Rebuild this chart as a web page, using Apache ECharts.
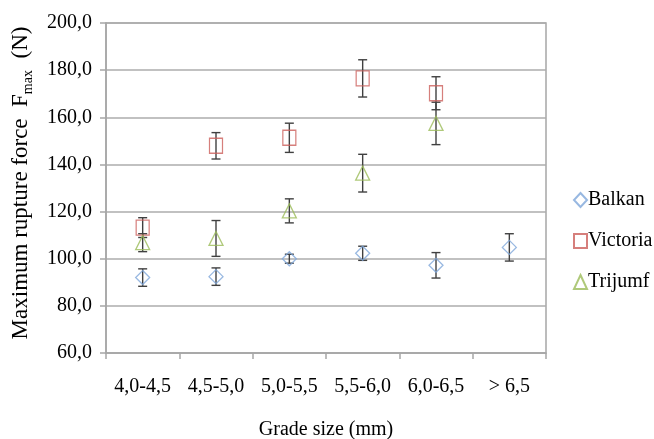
<!DOCTYPE html>
<html>
<head>
<meta charset="utf-8">
<script src="https://cdn.jsdelivr.net/npm/echarts@6/dist/echarts.min.js"></script>
<style>
html,body{margin:0;padding:0;background:#fff;}
#c{width:654px;height:439px;}
</style>
</head>
<body>
<div id="c"></div>
<script>
var categories = ['4,0-4,5', '4,5-5,0', '5,0-5,5', '5,5-6,0', '6,0-6,5', '> 6,5'];
var balkan = [92.0, 92.4, 100.0, 102.3, 97.2, 104.8];
var balkanErr = [3.7, 3.7, 1.9, 3.0, 5.4, 5.8];
var victoria = [113.2, 147.9, 151.3, 176.5, 170.2, null];
var victoriaErr = [4.2, 5.6, 6.2, 7.9, 7.0, null];
var trijumf = [106.8, 108.6, 120.3, 136.3, 157.4, null];
var trijumfErr = [3.8, 7.6, 5.1, 8.0, 9.0, null];
var yMin = 60, yMax = 200, yStep = 20;

var FONT = 'Liberation Serif';

function errData(vals, errs) {
  var out = [];
  for (var i = 0; i < vals.length; i++) {
    if (vals[i] != null && errs[i] != null) out.push([i, vals[i] - errs[i], vals[i] + errs[i]]);
  }
  return out;
}

function errSeries(name, vals, errs) {
  return {
    type: 'custom',
    name: name,
    z: 3,
    data: errData(vals, errs),
    renderItem: function (params, api) {
      var x = api.value(0);
      var lo = api.coord([x, api.value(1)]);
      var hi = api.coord([x, api.value(2)]);
      var hw = 4.5;
      var st = { stroke: '#404040', lineWidth: 1.4 };
      return {
        type: 'group',
        children: [
          { type: 'line', shape: { x1: lo[0], y1: lo[1], x2: hi[0], y2: hi[1] }, style: st },
          { type: 'line', shape: { x1: lo[0] - hw, y1: lo[1], x2: lo[0] + hw, y2: lo[1] }, style: st },
          { type: 'line', shape: { x1: hi[0] - hw, y1: hi[1], x2: hi[0] + hw, y2: hi[1] }, style: st }
        ]
      };
    }
  };
}

function pts(vals) {
  return vals.map(function (v, i) { return v == null ? [i, null] : [i, v]; });
}

var chart = echarts.init(document.getElementById('c'), null, { renderer: 'canvas' });
chart.setOption({
  animation: false,
  backgroundColor: '#fff',
  textStyle: { fontFamily: FONT },
  grid: {
    left: 106, right: 108, top: 23, bottom: 86,
    containLabel: false,
    outerBoundsMode: 'none',
    show: true, borderColor: '#A6A6A6', borderWidth: 1.5, backgroundColor: 'transparent'
  },
  legend: {
    data: ['Balkan', 'Victoria', 'Trijumf'],
    orient: 'vertical',
    left: 573, top: 190,
    itemWidth: 13, itemHeight: 14, itemGap: 21,
    padding: 0,
    textStyle: { fontFamily: FONT, fontSize: 20, color: '#000', padding: [0, 0, 0, -4] }
  },
  xAxis: {
    type: 'category',
    data: categories,
    boundaryGap: true,
    axisLine: { lineStyle: { color: '#A6A6A6', width: 1.5 } },
    axisTick: { show: true, interval: 0, length: 6, lineStyle: { color: '#A6A6A6', width: 1.5 } },
    axisLabel: { interval: 0, color: '#000', fontFamily: FONT, fontSize: 20, margin: 24 },
    name: 'Grade size (mm)',
    nameLocation: 'middle',
    nameGap: 67,
    nameTextStyle: { color: '#000', fontFamily: FONT, fontSize: 20 }
  },
  yAxis: {
    type: 'value',
    min: yMin, max: yMax, interval: yStep,
    axisLine: { show: true, lineStyle: { color: '#A6A6A6', width: 1.5 } },
    axisTick: { show: true, length: 6, lineStyle: { color: '#A6A6A6', width: 1.5 } },
    splitLine: { lineStyle: { color: '#ADADAD', width: 1.5 } },
    axisLabel: {
      color: '#000', fontFamily: FONT, fontSize: 20, margin: 14,
      formatter: function (v) { return v.toFixed(1).replace('.', ','); }
    },
    name: '{a|Maximum rupture force  F}{s|max}{a|  (N)}',
    nameLocation: 'middle',
    nameRotate: 90,
    nameGap: 71,
    nameTextStyle: {
      color: '#000', fontFamily: FONT, fontSize: 23,
      padding: [0, 0, 0, 10],
      rich: {
        a: { fontFamily: FONT, fontSize: 23, color: '#000', lineHeight: 28, verticalAlign: 'middle' },
        s: { fontFamily: FONT, fontSize: 14, color: '#000', lineHeight: 28, verticalAlign: 'bottom' }
      }
    }
  },
  series: [
    errSeries('Balkan err', balkan, balkanErr),
    errSeries('Victoria err', victoria, victoriaErr),
    errSeries('Trijumf err', trijumf, trijumfErr),
    {
      type: 'scatter', name: 'Balkan', z: 4,
      symbol: 'diamond', symbolSize: [14, 14],
      itemStyle: { color: 'rgba(255,255,255,0)', borderColor: '#7EA6DA', borderWidth: 1.3 },
      data: pts(balkan)
    },
    {
      type: 'scatter', name: 'Victoria', z: 4,
      symbol: 'rect', symbolSize: [13, 15],
      itemStyle: { color: 'rgba(255,255,255,0)', borderColor: '#CC5F5B', borderWidth: 1.3 },
      data: pts(victoria)
    },
    {
      type: 'scatter', name: 'Trijumf', z: 4,
      symbol: 'triangle', symbolSize: [14, 14],
      itemStyle: { color: 'rgba(255,255,255,0)', borderColor: '#9BBB59', borderWidth: 1.3 },
      data: pts(trijumf)
    }
  ]
});
</script>
</body>
</html>
